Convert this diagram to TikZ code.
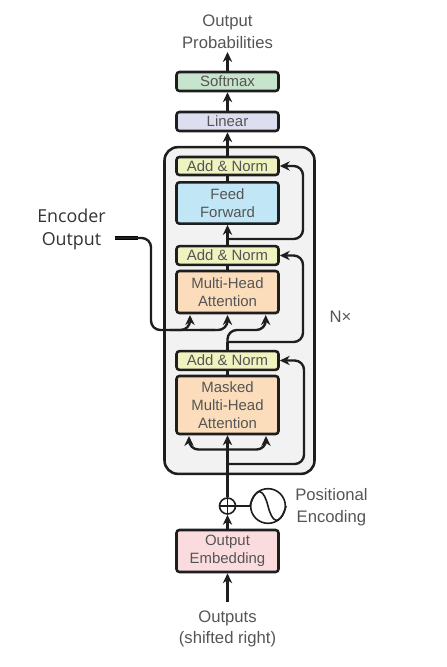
\documentclass[tikz,border=0pt]{standalone}
\usepackage{fontspec}
\setmainfont{Liberation Sans}
\newfontfamily\encfont{Open Sans}
\usetikzlibrary{arrows.meta}
\definecolor{txt}{HTML}{555555}
\definecolor{edge}{HTML}{1E1E1E}
\tikzset{
  x=0.75pt,y=-0.75pt,
  blockbox/.style={draw=edge,line width=1.9pt,rounded corners=2.2pt,text=txt,minimum width=76.5pt,inner sep=0pt,align=center,font=\fontsize{11.2}{13.6}\selectfont},
  lbl/.style={text=txt,align=center,inner sep=0pt,font=\fontsize{12.5}{16.2}\selectfont},
  conn/.style={draw=edge,line width=1.8pt,-{Stealth[length=7.5pt,width=7pt]},rounded corners=7pt},
  plain/.style={draw=edge,line width=1.8pt,rounded corners=7pt},
}
\definecolor{softc}{HTML}{C6E5CC}
\definecolor{linc}{HTML}{DDDFF0}
\definecolor{addc}{HTML}{EFF3BF}
\definecolor{ffc}{HTML}{C1E6F6}
\definecolor{attc}{HTML}{FBDDBC}
\definecolor{embc}{HTML}{FADCDF}
\begin{document}
\begin{tikzpicture}
\useasboundingbox (0,0) rectangle (446,667);
\node[draw=edge,line width=1.9pt,fill=black!5,rounded corners=10pt,minimum width=112.5pt,minimum height=245pt,inner sep=0pt] (frame) at (239.5,310.5) {};
\node[lbl] (outp) at (227.5,32) {Output\\Probabilities};
\node[blockbox,fill=softc,minimum height=14.25pt] (soft) at (227.5,81.5) {Softmax};
\node[blockbox,fill=linc,minimum height=14.25pt] (lin) at (227.5,121.5) {Linear};
\node[blockbox,fill=addc,minimum height=13.5pt] (an1) at (227.5,166) {Add \& Norm};
\node[blockbox,fill=ffc,minimum height=31pt] (ff) at (227.5,203) {Feed\\Forward};
\node[blockbox,fill=addc,minimum height=14pt] (an2) at (227.5,255.5) {Add \& Norm};
\node[blockbox,fill=attc,minimum height=31.5pt] (mha) at (227.5,292) {Multi-Head\\Attention};
\node[blockbox,fill=addc,minimum height=14pt] (an3) at (227.5,360.5) {Add \& Norm};
\node[blockbox,fill=attc,minimum height=43.5pt] (mask) at (227.5,405) {Masked\\Multi-Head\\Attention};
\node[blockbox,fill=embc,minimum height=31.5pt] (emb) at (227.5,551) {Output\\Embedding};
\node[draw=edge,line width=1.2pt,circle,minimum size=12pt,inner sep=0pt] (plus) at (227.5,506) {};
\node[draw=edge,line width=1.2pt,circle,minimum size=26pt,inner sep=0pt] (sine) at (268,506) {};
\node[lbl,anchor=west] (pos) at (295,507) {Positional\\Encoding};
\node[lbl] (nx) at (340.5,316.5) {N×};
\node[lbl] (outs) at (227.5,629) {Outputs\\(shifted right)};
\node[align=center,inner sep=0pt,text=black!80,font=\encfont\fontsize{13.4}{17.5}\selectfont] (enc) at (71.5,229.5) {Encoder\\Output};
% plus sign and sine
\draw[edge,line width=0.9pt] (plus.west) -- (plus.east) (plus.north) -- (plus.south);
\draw[edge,line width=1.2pt] (sine.west) .. controls (257,484) and (264,490) .. (sine.center) .. controls (272,522) and (279,528) .. (sine.east);
% main path
\coordinate (outsT) at (227.5,602);
\draw[conn] (outsT) -- (emb.south);
\draw[conn] (emb.north) -- (plus.south);
\draw[plain] (plus.east) -- (sine.west);
\draw[conn] (plus.north) -- (mask.south);
\coordinate (mL) at (189,436);
\coordinate (mR) at (266,436);
\coordinate (mB) at (227.5,449.5);
\draw[conn] (mB) -| (mL);
\draw[conn] (mB) -| (mR);
\coordinate (r1s) at (227.5,464);
\coordinate (r1c) at (304,464);
\draw[conn] (r1s) -- (r1c) |- (an3.east);
\draw[plain] (mask.north) -- (an3.south);
\coordinate (an3up) at (227.5,342);
\draw[plain] (an3.north) -- (an3up);
\coordinate (r2c) at (303,342);
\draw[conn] (an3up) -- (r2c) |- (an2.east);
\coordinate (mhaR) at (265.7,315);
\draw[conn] (227.5,345) -- (227.5,330) -- (265.7,330) -- (mhaR);
% encoder output
\coordinate (encS) at (115,238);
\coordinate (encC) at (151,238);
\coordinate (encB) at (151,330);
\coordinate (mhaL) at (190,315);
\coordinate (mhaM) at (227.5,315);
\draw[draw=black,line width=2.6pt] (encS) -- (138,238);
\draw[plain] (encS) -- (encC) -- (encB) -- (215,330);
\draw[conn] (170,330) -- (190,330) -- (mhaL);
\draw[conn] (200,330) -- (227.5,330) -- (mhaM);
% upper
\draw[plain] (mha.north) -- (an2.south);
\draw[conn] (an2.north) -- (ff.south);
\coordinate (r3s) at (227.5,239);
\coordinate (r3c) at (303,239);
\draw[conn] (r3s) -- (r3c) |- (an1.east);
\draw[plain] (ff.north) -- (an1.south);
\draw[conn] (an1.north) -- (lin.south);
\draw[conn] (lin.north) -- (soft.south);
\coordinate (outB) at (227.5,52);
\draw[conn] (soft.north) -- (outB);
\end{tikzpicture}
\end{document}
